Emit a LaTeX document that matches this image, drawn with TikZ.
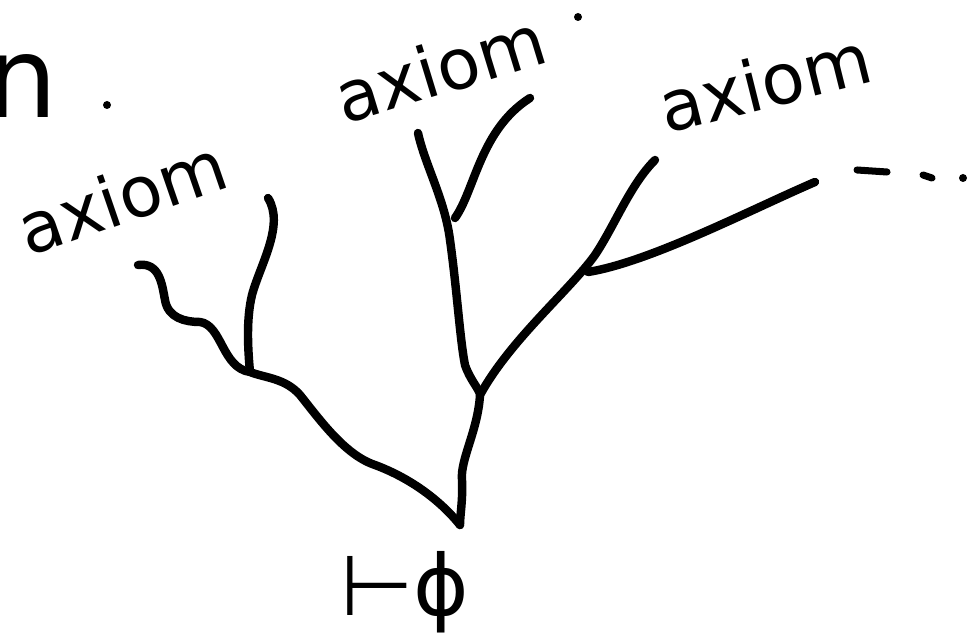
\documentclass[tikz,border=0pt]{standalone}
\usepackage{fontspec}
\setmainfont{DejaVu Sans}
\newfontfamily\symfont{DejaVu Sans}
\begin{document}
\begin{tikzpicture}[x=0.02cm,y=-0.02cm,
  stroke/.style={line width=4.8pt,line cap=round,line join=round},
  lbl/.style={inner sep=0pt,font=\fontsize{40}{48}\selectfont},
  dotm/.style={fill=black}]
\useasboundingbox (0,0) rectangle (974,641);
% labels
\node[lbl,anchor=base east,font=\fontsize{64}{72}\selectfont] (n) at (58,118) {n};
\fill[dotm] (107,105) circle (4);
\node[lbl,rotate=19] (ax1) at (122,197) {axiom};
\node[lbl,rotate=17] (ax2) at (440,68) {axiom};
\fill[dotm] (578,17) circle (4);
\node[lbl,rotate=14] (ax3) at (765,82) {axiom};
\node[lbl,anchor=base,font=\symfont\fontsize{48}{56}\selectfont] (root) at (405,616) {⊢ϕ};
% tree
\coordinate (base) at (460,525);
\coordinate (fork) at (480,395);
\coordinate (j1) at (250,372);
\coordinate (j2) at (455,218);
\coordinate (j3) at (588,272);
\draw[stroke] (138,265) .. controls (160,262) and (162,285) .. (165,300)
  .. controls (168,318) and (185,322) .. (200,322)
  .. controls (222,325) and (222,368) .. (j1)
  .. controls (265,378) and (285,378) .. (300,395)
  .. controls (320,420) and (345,455) .. (375,465)
  .. controls (410,478) and (440,500) .. (base);
\draw[stroke] (268,198) .. controls (285,225) and (260,265) .. (252,295)
  .. controls (246,320) and (248,350) .. (j1);
\draw[stroke] (418,133) .. controls (425,165) and (445,200) .. (450,240)
  .. controls (457,290) and (460,340) .. (465,365)
  .. controls (470,380) and (480,390) .. (fork)
  .. controls (478,430) and (460,460) .. (462,480)
  .. controls (463,500) and (460,515) .. (base);
\draw[stroke] (j2) .. controls (475,190) and (480,130) .. (530,98);
\draw[stroke] (fork) .. controls (510,340) and (570,290) .. (595,255)
  .. controls (615,225) and (630,185) .. (655,160);
\draw[stroke] (j3) .. controls (650,262) and (750,210) .. (815,182);
% continuation marks
\draw[stroke,line width=4pt] (857,170) -- (887,172);
\draw[stroke,line width=4pt] (923,175) -- (932,178);
\fill[dotm] (963,178) circle (4);
\end{tikzpicture}
\end{document}
